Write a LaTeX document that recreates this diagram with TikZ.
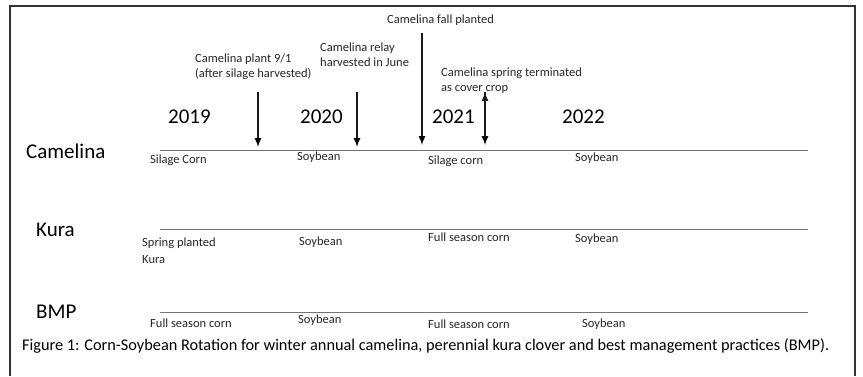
\documentclass[tikz,border=0pt]{standalone}
\usepackage{fontspec}
\setmainfont{Carlito}
\usepackage{tikz}
\usetikzlibrary{positioning,calc}

\begin{document}
\begin{tikzpicture}[x=1pt,y=-1pt]
            \tikzstyle{rowname}=[anchor=west, inner sep=0pt,
            font=\fontsize{21}{25}\selectfont]
            \tikzstyle{yr}=[anchor=west, inner sep=0pt,
            font=\fontsize{21}{25}\selectfont]
            \tikzstyle{crop}=[anchor=west, inner sep=0pt, align=left,
            font=\fontsize{12.5}{17}\selectfont, text=black!85]
            \tikzstyle{note}=[anchor=west, inner sep=0pt, align=left,
            font=\fontsize{12.5}{15}\selectfont, text=black!85]
            \tikzstyle{tline}=[draw=black!55, line width=1pt]
            \tikzstyle{evt}=[->, >=latex, line width=2pt, draw=black!90]
            \useasboundingbox (0,0) rectangle (863,376);
            % frame
            \draw[line width=2pt, black!80] (10,376) -- (10,6) -- (855,6) -- (855,376);
            % rows
            \node[rowname] (cam) at (26,151) {Camelina};
            \node[rowname] (kura) at (36,230) {Kura};
            \node[rowname] (bmp) at (36,312) {BMP};
            \coordinate (cam0) at (160,150);
            \coordinate (cam1) at (808,150);
            \coordinate (kura0) at (160,229);
            \coordinate (kura1) at (808,229);
            \coordinate (bmp0) at (160,312);
            \coordinate (bmp1) at (808,312);
            \path[tline] (cam0) -- (cam1) (kura0) -- (kura1) (bmp0) -- (bmp1);
            % years
            \node[yr] (y19) at (168,117) {2019};
            \node[yr] (y20) at (300,117) {2020};
            \node[yr] (y21) at (432,117) {2021};
            \node[yr] (y22) at (562,117) {2022};
            % events
            \node[note] (n1) at (195,67) {Camelina plant 9/1\\(after silage harvested)};
            \node[note] (n2) at (320,55) {Camelina relay\\harvested in June};
            \node[note] (n3) at (387,20) {Camelina fall planted};
            \node[note] (n4) at (441,81) {Camelina spring terminated\\as cover crop};
            \coordinate (a1) at (258,92);  \coordinate (b1) at (258,147);
            \coordinate (a2) at (357,92);  \coordinate (b2) at (357,147);
            \coordinate (a3) at (422,33);  \coordinate (b3) at (422,145);
            \coordinate (a4) at (485,92);  \coordinate (b4) at (485,145);
            \path[evt] (a1) edge (b1) (a2) edge (b2) (a3) edge (b3) (a4) edge (b4);
            % crops
            \node[crop] (c1) at (150,160) {Silage Corn};
            \node[crop] (c2) at (297,157) {Soybean};
            \node[crop] (c3) at (428,161) {Silage corn};
            \node[crop] (c4) at (575,158) {Soybean};
            \node[crop] (k1) at (142,251) {Spring planted\\Kura};
            \node[crop] (k2) at (299,242) {Soybean};
            \node[crop] (k3) at (428,237) {Full season corn};
            \node[crop] (k4) at (575,239) {Soybean};
            \node[crop] (m1) at (150,323) {Full season corn};
            \node[crop] (m2) at (298,320) {Soybean};
            \node[crop] (m3) at (428,324) {Full season corn};
            \node[crop] (m4) at (582,324) {Soybean};
            % caption
            \node[anchor=west, inner sep=0pt, font=\fontsize{16.3}{19}\selectfont] (cap) at (22,346)
            {Figure 1: Corn-Soybean Rotation for winter annual camelina, perennial kura clover and best management practices (BMP).};
        \end{tikzpicture}
\end{document}
